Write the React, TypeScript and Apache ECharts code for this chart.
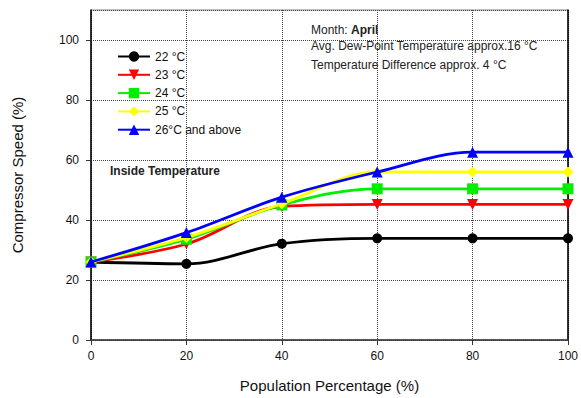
import React, { useEffect, useRef } from "react";
import * as echarts from "echarts";

const xValues = [0, 20, 40, 60, 80, 100];
const s22 = [26, 25.4, 32.1, 33.9, 33.9, 33.9];
const s23 = [26, 32.0, 44.5, 45.2, 45.2, 45.2];
const s24 = [26, 33.6, 45.0, 50.4, 50.4, 50.4];
const s25 = [26, 34.2, 45.4, 56.0, 56.0, 56.0];
const s26 = [26, 35.8, 47.6, 56.0, 62.6, 62.6];
const seriesNames = ["22 \u00B0C", "23 \u00B0C", "24 \u00B0C", "25 \u00B0C", "26\u00B0C and above"];
const seriesColors = ["#000000", "#ff0000", "#00ee00", "#ffff00", "#0000ff"];
const seriesSymbols = ["circle", "triangle", "rect", "diamond", "triangle"];
const seriesRotate = [0, 180, 0, 0, 0];
const seriesData = [s22, s23, s24, s25, s26];

const FONT = "'Liberation Sans', Arial, sans-serif";

export default function App() {
  const ref = useRef<HTMLDivElement>(null);
  useEffect(() => {
    if (!ref.current) return;
    const chart = echarts.init(ref.current, undefined, { renderer: "svg" });
    const series = seriesData.map((d, i) => ({
      name: seriesNames[i],
      type: "line",
      smooth: 0.35,
      data: d.map((v, j) => [xValues[j], v]),
      symbol: seriesSymbols[i],
      symbolRotate: seriesRotate[i],
      symbolSize: i === 0 ? 10 : 11,
      lineStyle: { color: seriesColors[i], width: 2.8 },
      itemStyle: { color: seriesColors[i] },
      z: 2 + i,
    }));
    chart.setOption({
      animation: false,
      textStyle: { fontFamily: FONT },
      grid: {
        left: 91, right: 11, top: 10, bottom: 55,
        show: true, borderColor: "#888", borderWidth: 1,
      },
      legend: {
        orient: "vertical",
        left: 112, top: 45,
        itemWidth: 32, itemHeight: 13, itemGap: 5.3,
        textStyle: { fontFamily: FONT, fontSize: 12, color: "#111", lineHeight: 13 },
        data: seriesNames,
      },
      xAxis: {
        type: "value", min: 0, max: 100, interval: 20,
        name: "Population Percentage (%)",
        nameLocation: "middle", nameGap: 38,
        nameTextStyle: { fontFamily: FONT, fontSize: 15, color: "#111" },
        axisLine: { lineStyle: { color: "#333", width: 1.5 } },
        axisTick: { show: true, length: 5, lineStyle: { color: "#333" } },
        axisLabel: { fontFamily: FONT, fontSize: 12, color: "#111", margin: 10 },
        splitLine: { show: true, lineStyle: { type: "dotted", color: "#444" } },
      },
      yAxis: [
        {
          type: "value", min: 0, max: 110, interval: 20,
          name: "Compressor Speed (%)",
          nameLocation: "middle", nameGap: 66,
          nameTextStyle: { fontFamily: FONT, fontSize: 15, color: "#111" },
          axisLine: { show: true, lineStyle: { color: "#000", width: 1.5 } },
          axisTick: { show: true, length: 5, lineStyle: { color: "#333" } },
          axisLabel: { fontFamily: FONT, fontSize: 12, color: "#111", margin: 12, showMaxLabel: false,
            formatter: (v: number) => (v > 100 ? "" : String(v)) },
          splitLine: { show: true, lineStyle: { type: "dotted", color: "#444" } },
        },
        {
          type: "value", min: 0, max: 110, position: "right",
          axisLine: { show: true, lineStyle: { color: "#000", width: 1.5 } },
          axisTick: { show: false }, axisLabel: { show: false }, splitLine: { show: false },
        },
      ],
      graphic: [
        { type: "text", left: 110, top: 165, style: { text: "Inside Temperature", font: `bold 12px ${FONT}`, fill: "#222" } },
        { type: "text", left: 311, top: 24, style: { text: "Month:", font: `12px ${FONT}`, fill: "#222" } },
        { type: "text", left: 351, top: 24, style: { text: "April", font: `bold 12px ${FONT}`, fill: "#222" } },
        { type: "text", left: 311, top: 40, style: { text: "Avg. Dew-Point Temperature approx.16 \u00B0C", font: `12px ${FONT}`, fill: "#222" } },
        { type: "text", left: 311, top: 59, style: { text: "Temperature Difference approx. 4 \u00B0C", font: `12px ${FONT}`, fill: "#222" } },
      ],
      series,
    });
    return () => chart.dispose();
  }, []);
  return <div ref={ref} style={{ width: 581, height: 398, position: "absolute", left: 0, top: 0 }} />;
}
